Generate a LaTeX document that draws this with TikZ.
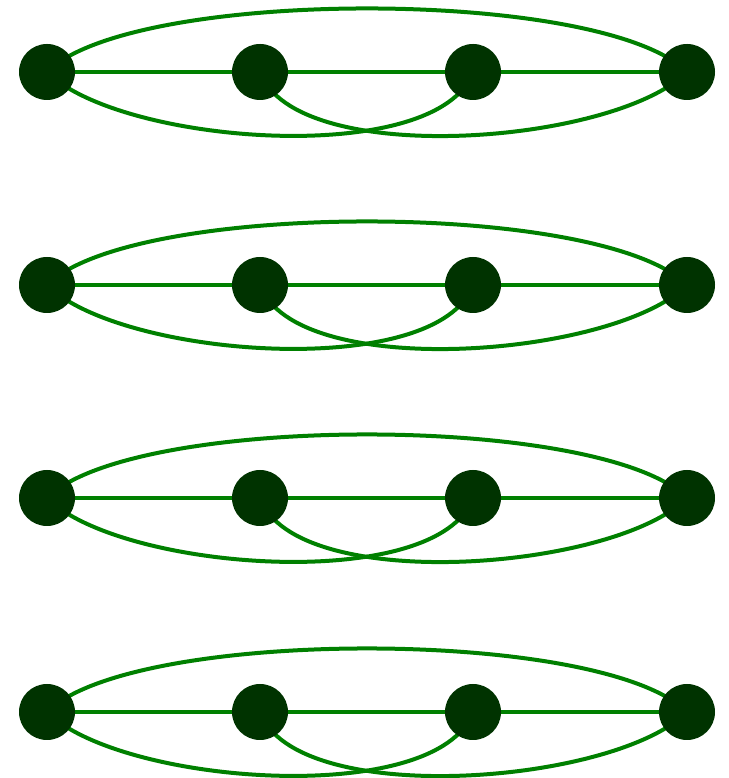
\documentclass[tikz,border=0pt]{standalone}
\usepackage{xcolor}
\usepackage{tikz}
\usetikzlibrary{backgrounds}

\definecolor{vertexgreen}{HTML}{003300}
\definecolor{edgegreen}{HTML}{008000}

\begin{document}
\begin{tikzpicture}[
  x=1pt, y=1pt,
  vertex/.style={circle, fill=vertexgreen, minimum size=56pt, inner sep=0pt},
  edge/.style={draw=edgegreen, line width=4pt}
]
\useasboundingbox (0,0) rectangle (728,778);

\foreach \r/\y in {1/706, 2/493, 3/280, 4/66} {
  \node[vertex] (a\r) at (47,\y)  {};
  \node[vertex] (b\r) at (260,\y) {};
  \node[vertex] (c\r) at (473,\y) {};
  \node[vertex] (d\r) at (687,\y) {};

  \begin{scope}[on background layer]
    \draw[edge] (a\r.center) -- (b\r.center) -- (c\r.center) -- (d\r.center);
    \draw[edge] (a\r.center) to[out=45, in=135, looseness=0.48] (d\r.center);
    \draw[edge] (a\r.center) to[out=-45, in=-110, looseness=0.62] (c\r.center);
    \draw[edge] (b\r.center) to[out=-70, in=-135, looseness=0.62] (d\r.center);
  \end{scope}
}

\end{tikzpicture}
\end{document}
